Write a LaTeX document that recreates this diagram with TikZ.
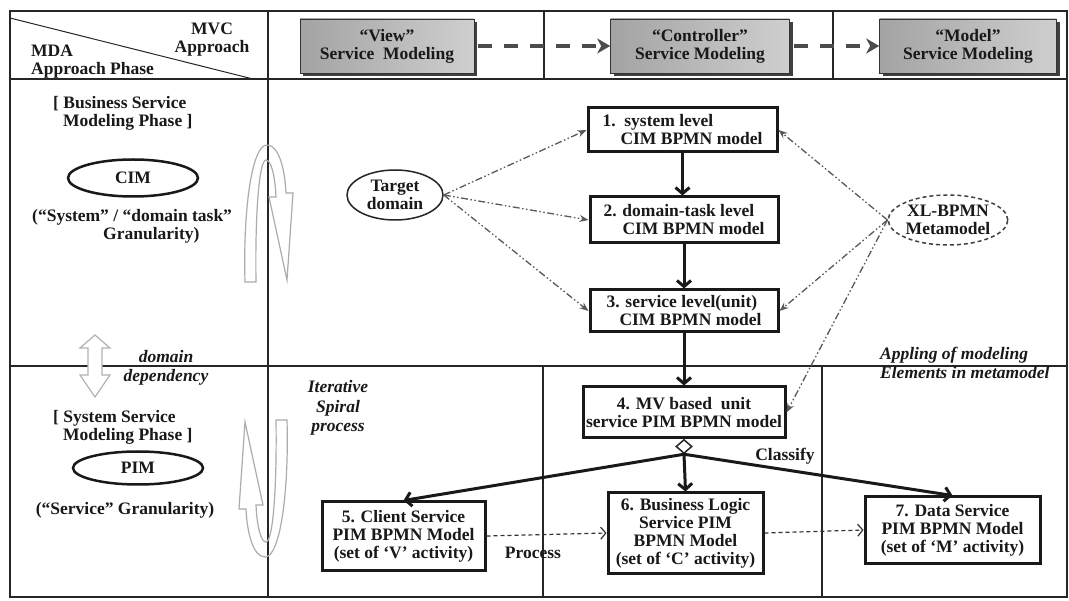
\documentclass[tikz,border=0pt]{standalone}
\usepackage{fontspec}
\setmainfont{Liberation Serif}
\usetikzlibrary{arrows.meta,shapes.geometric,shadows}
\begin{document}
\begin{tikzpicture}[x=1pt,y=-1pt,
  base/.style={font=\bfseries\fontsize{17.5}{18}\selectfont, text=black!90, inner sep=0pt},
  itl/.style={font=\bfseries\itshape\fontsize{17.5}{19.5}\selectfont, text=black!90, inner sep=0pt},
  mbox/.style={base, draw=black!90, line width=3pt, fill=white, align=center},
  hbox/.style={base, align=center, draw=gray!40!black, line width=0.6pt,
     left color=gray!72, middle color=gray!12, right color=gray!38,
     drop shadow={shadow xshift=3pt, shadow yshift=-3pt, fill=black!75, opacity=1},
     minimum height=54pt},
  ell/.style={base, ellipse, draw=black!90, line width=2.5pt, fill=white},
  flow/.style={line width=3pt, draw=black!90, -{Straight Barb[length=6pt,width=14pt]}},
  ddot/.style={line width=1.3pt, draw=black!65,
     dash pattern=on 7pt off 2.5pt on 1.5pt off 2.5pt on 1.5pt off 2.5pt,
     -{Stealth[length=9pt,width=7pt]}},
  proc/.style={line width=1.2pt, draw=black!80, dash pattern=on 4pt off 3pt,
     -{Straight Barb[length=5pt,width=12pt]}},
  harrow/.style={line width=3.5pt, draw=black!70, dash pattern=on 14pt off 12pt,
     -{Stealth[length=13pt,width=15pt,inset=4pt]}},
  spiral/.style={draw=gray!65, line width=1.2pt}
]
\useasboundingbox (0,0) rectangle (1069,601);
\fill[white] (0,0) rectangle (1069,601);

% frame and grid
\draw[line width=1.2pt, black!85] (268,11) -- (268,597);
\draw[line width=1.2pt, black!85] (10,366) -- (1067,366);
\draw[line width=1.2pt, black!85] (544,11) -- (544,79);
\draw[line width=1.2pt, black!85] (833,11) -- (833,79);
\draw[line width=1.2pt, black!85] (543,366) -- (543,597);
\draw[line width=1.2pt, black!85] (822,366) -- (822,597);
\draw[line width=1pt, black!85] (10,18) -- (253,79);
\draw[line width=2.5pt, black!85] (10,79) -- (1067,79);
\draw[line width=2.5pt, black!85] (10,11) rectangle (1067,597);

% header left cell
\node[base, align=center] (mvc) at (212,40) {MVC\\Approach};
\node[base, align=left, anchor=west] (mda) at (31,62) {MDA\\Approach Phase};

% header boxes
\node[hbox, minimum width=174pt] (view) at (387,46) {“View”\\Service~~Modeling};
\node[hbox, minimum width=179pt] (ctrl) at (700,46) {“Controller”\\Service Modeling};
\node[hbox, minimum width=177pt] (model) at (968,46) {“Model”\\Service Modeling};
\draw[harrow] ([xshift=4pt]view.east) -- (ctrl.west);
\draw[harrow] ([xshift=4pt]ctrl.east) -- (model.west);

% left panel
\node[base, align=left, anchor=west] (bsm) at (53,113) {[ Business Service\\\hspace*{10pt}Modeling Phase ]};
\node[ell, minimum width=130pt, minimum height=37pt] (cim) at (133,178) {CIM};
\node[base, align=left, anchor=west] (cimg) at (32,226) {(“System” / “domain task”\\\hspace*{71pt}Granularity)};
\node[itl, align=center] (dd) at (166,368) {domain\\dependency};
\node[base, align=left, anchor=west] (ssm) at (53,427) {[ System Service\\\hspace*{10pt}Modeling Phase ]};
\node[ell, minimum width=130pt, minimum height=33pt] (pim) at (138,468) {PIM};
\node[base] (pimg) at (125,510) {(“Service” Granularity)};

% domain dependency double arrow
\draw[draw=gray!60, fill=white, line width=1.2pt]
  (95,335) -- (110,348) -- (102,348) -- (102,375) -- (110,375) -- (95,397)
  -- (80,375) -- (88,375) -- (88,348) -- (80,348) -- cycle;

% spiral arrows
\draw[spiral] (245,282) .. controls (243,215) and (251,145) .. (267,145)
  .. controls (279,145) and (285,170) .. (286,193)
  -- (293,193) -- (287,280) -- (269,197) -- (276,197)
  .. controls (275,175) and (271,160) .. (266,160)
  .. controls (259,160) and (255,215) .. (256,282) -- cycle;
\begin{scope}[rotate around={180:(266,351)}]
\draw[spiral] (245,282) .. controls (243,215) and (251,145) .. (267,145)
  .. controls (279,145) and (285,170) .. (286,193)
  -- (293,193) -- (287,280) -- (269,197) -- (276,197)
  .. controls (275,175) and (271,160) .. (266,160)
  .. controls (259,160) and (255,215) .. (256,282) -- cycle;
\end{scope}
\node[itl, align=center] (iter) at (338,408) {Iterative\\Spiral\\process};

% main boxes
\node[mbox, minimum width=189pt, minimum height=44pt, align=left] (b1) at (682.5,130) {1.~~system level\\\hspace*{18pt}CIM BPMN model};
\node[mbox, minimum width=188pt, minimum height=46pt, align=left] (b2) at (684,220) {2. domain-task level\\\hspace*{19pt}CIM BPMN model};
\node[mbox, minimum width=188pt, minimum height=42pt, align=left] (b3) at (684,311) {3. service level(unit)\\\hspace*{13pt}CIM BPMN model};
\node[mbox, minimum width=202pt, minimum height=51pt] (b4) at (684,412.5) {4. MV based~~unit\\service PIM BPMN model};
\node[mbox, minimum width=163pt, minimum height=68pt] (b5) at (403.5,536) {5. Client Service\\PIM BPMN Model\\(set of ‘V’ activity)};
\node[mbox, minimum width=155pt, minimum height=80pt] (b6) at (685.5,533) {6. Business Logic\\Service PIM\\BPMN Model\\(set of ‘C’ activity)};
\node[mbox, minimum width=175pt, minimum height=66pt] (b7) at (952.5,530) {7. Data Service\\PIM BPMN Model\\(set of ‘M’ activity)};

% ellipses
\node[base, ellipse, draw=black!85, line width=1.5pt, fill=white, align=center,
  minimum width=96pt, minimum height=50pt] (tgt) at (395,195) {Target\\domain};
\node[base, ellipse, draw=black!75, line width=1.5pt, dash pattern=on 4pt off 3pt, fill=white, align=center,
  minimum width=112pt, minimum height=50pt] (xl) at (948,220) {XL-BPMN\\Metamodel};

% flow arrows
\draw[flow] (b1.south) -- (b1.south |- b2.north);
\draw[flow] (b2.south) -- (b3.north);
\draw[flow] (b3.south) -- (b3.south |- b4.north);
\node[diamond, draw=black!85, line width=1.5pt, fill=white, aspect=1.15,
  minimum width=16pt, minimum height=14pt, inner sep=0pt] (dia) at ([yshift=-7pt]b4.south) {};
\draw[flow] (dia.south) -- (b5.north);
\draw[flow] (dia.south) -- (b6.north);
\draw[flow] (dia.south) -- (b7.north);
\node[base] (cls) at (785,456) {Classify};

% dash-dot arrows
\draw[ddot] (tgt.east) -- (b1.west);
\draw[ddot] (tgt.east) -- (b2.west);
\draw[ddot] (tgt.east) -- (b3.west);
\draw[ddot] (xl.west) -- (b1.east);
\draw[ddot] (xl.west) -- (b3.east);
\draw[ddot] (xl.west) -- (b4.east);

% process arrows
\draw[proc] (b5.east) -- (b6.west);
\draw[proc] (b6.east) -- (b7.west);
\node[base] (prc) at (533,553) {Process};

\node[itl, align=left, anchor=west] (app) at (880,363) {Appling of modeling\\Elements in metamodel};
\end{tikzpicture}
\end{document}
